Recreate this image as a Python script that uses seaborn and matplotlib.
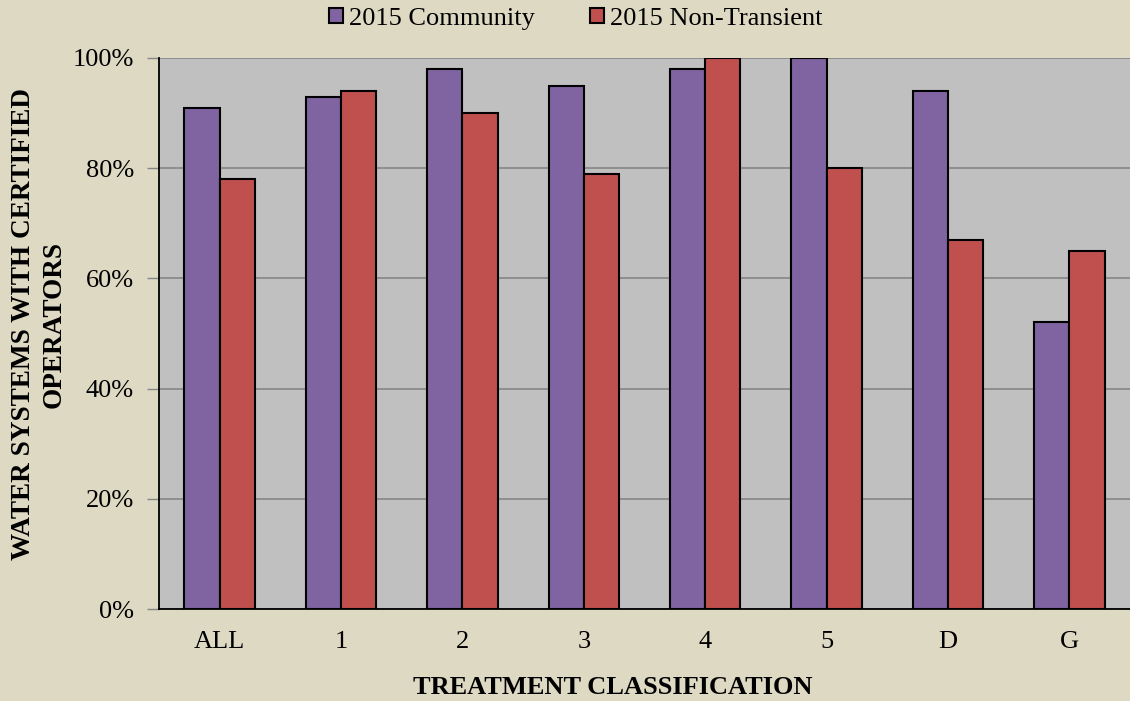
import matplotlib
matplotlib.use("Agg")
import matplotlib.pyplot as plt
import matplotlib.ticker as mticker
from matplotlib.patches import Patch
import seaborn as sns
import pandas as pd

categories = ["ALL", "1", "2", "3", "4", "5", "D", "G"]
community = [91, 93, 98, 95, 98, 100, 94, 52]
non_transient = [78, 94, 90, 79, 100, 80, 67, 65]
series_names = ["2015 Community", "2015 Non-Transient"]
x_title = "TREATMENT CLASSIFICATION"
y_title_lines = ["WATER SYSTEMS WITH CERTIFIED", "OPERATORS"]

df = pd.DataFrame({
    "cat": categories * 2,
    "val": community + non_transient,
    "series": [series_names[0]] * len(categories) + [series_names[1]] * len(categories),
})

sns.set_theme(style="white")
plt.rcParams["font.family"] = ["Liberation Serif", "DejaVu Serif"]
plt.rcParams["text.color"] = "black"
plt.rcParams["axes.labelcolor"] = "black"

FS = 19
bg = "#DDD9C3"
fig = plt.figure(figsize=(11.30, 7.01), dpi=100, facecolor=bg)
ax = fig.add_axes([159 / 1130, 1 - 609 / 701, 1 - 159 / 1130, (609 - 58) / 701])
ax.set_facecolor("#C0C0C0")

palette = {series_names[0]: "#8064A2", series_names[1]: "#C0504D"}
sns.barplot(data=df, x="cat", y="val", hue="series", order=categories,
            hue_order=series_names, palette=palette, width=0.58,
            edgecolor="black", linewidth=1.5, saturation=1, ax=ax, legend=False)

ax.set_xlim(-0.5, len(categories) - 0.5)
ax.set_ylim(0, 100)
ax.yaxis.set_major_locator(mticker.MultipleLocator(20))
ax.yaxis.set_major_formatter(mticker.FuncFormatter(lambda v, p: f"{int(v)}%"))
ax.grid(axis="y", color="#868686", linewidth=1.2)
ax.set_axisbelow(True)

for s in ["top", "right"]:
    ax.spines[s].set_visible(False)
for s in ["left", "bottom"]:
    ax.spines[s].set_color("black")
    ax.spines[s].set_linewidth(1.3)

ax.set_xticks([i - 0.5 for i in range(len(categories) + 1)])
ax.set_xticklabels([])
ax.set_xticks(range(len(categories)), minor=True)
ax.set_xticklabels(categories, minor=True)
ax.tick_params(axis="x", which="major", direction="out", length=7, color="#868686", width=1)
ax.tick_params(axis="x", which="minor", length=0, pad=16, labelsize=FS, labelcolor="black")
ax.tick_params(axis="y", direction="out", length=9, color="#868686", width=1, pad=9,
               labelsize=FS, labelcolor="black", left=True)

ax.set_xlabel("")
ax.set_ylabel("")
fig.text(613 / 1130, 1 - 688 / 701, x_title, ha="center", va="center",
         fontsize=FS, fontweight="bold")
fig.text(24 / 1130, 1 - 324 / 701, y_title_lines[0], ha="center", va="center",
         rotation=90, fontsize=19.6, fontweight="bold")
fig.text(54 / 1130, 1 - 324 / 701, y_title_lines[1], ha="center", va="center",
         rotation=90, fontsize=19.6, fontweight="bold")

handles = [Patch(facecolor=palette[n], edgecolor="black", linewidth=1.5) for n in series_names]
fig.legend(handles, series_names, loc="center", bbox_to_anchor=(576 / 1130, 1 - 19 / 701), ncol=2,
           frameon=False, fontsize=FS, handlelength=0.53, handleheight=0.53,
           handletextpad=0.23, columnspacing=2.1, borderaxespad=0, borderpad=0)

fig.savefig("out.png", dpi=100, facecolor=bg)
